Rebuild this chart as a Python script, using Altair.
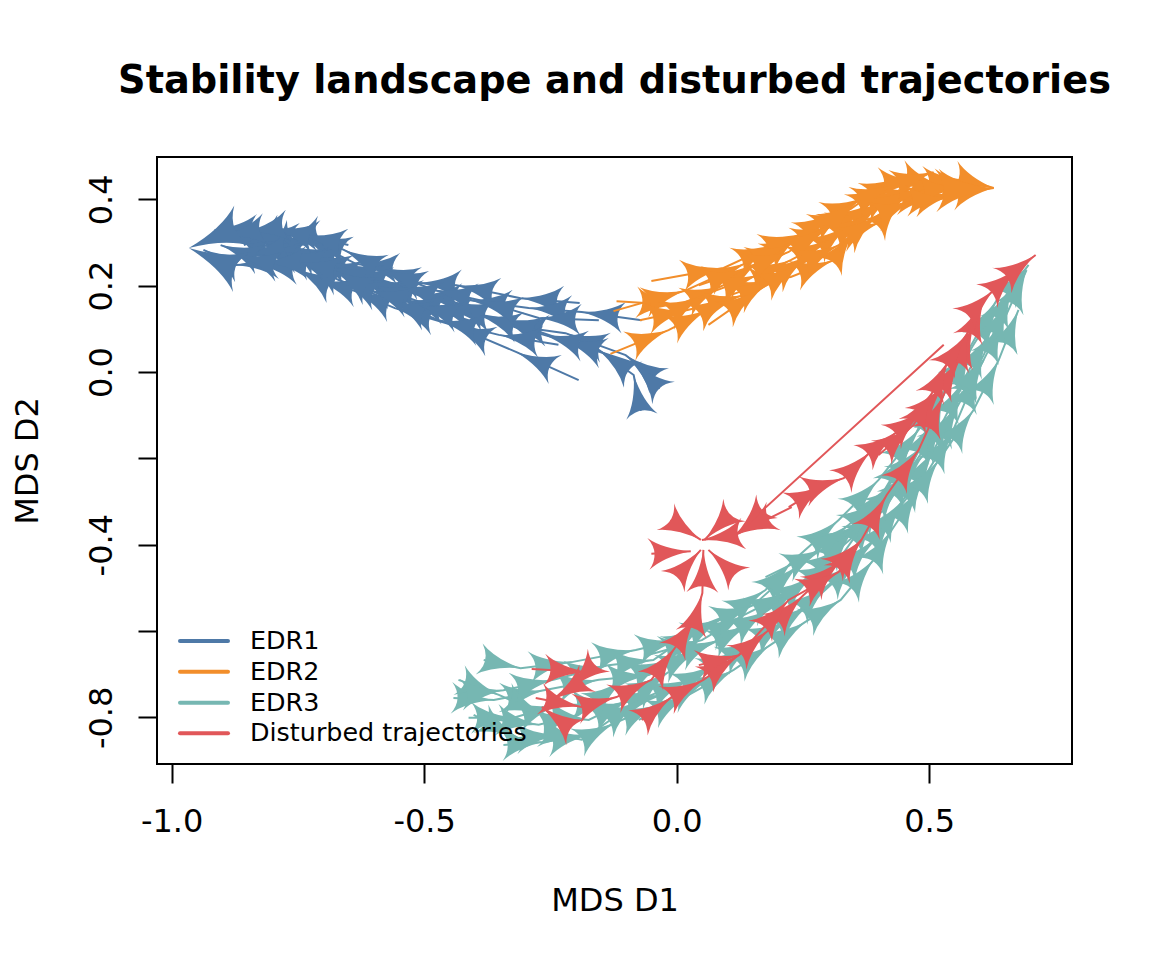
import math
import altair as alt
import pandas as pd

TITLE = "Stability landscape and disturbed trajectories"
NAMES = ["EDR1", "EDR2", "EDR3", "Disturbed trajectories"]
COLORS = ["#4E79A7", "#F28E2B", "#76B7B2", "#E15759"]
X_DOMAIN = [-1.029, 0.783]
Y_DOMAIN = [-0.908, 0.498]
X_TICKS = [-1.0, -0.5, 0.0, 0.5]
Y_TICKS = [-0.8, -0.6, -0.4, -0.2, 0.0, 0.2, 0.4]
W, H = 915, 607

# EDR1
b1x = [-.194,-.317,-.444,-.558,-.638,-.711,-.752,-.832,-.873,-.937]
b1y = [-.019,.046,.109,.148,.188,.213,.239,.250,.248,.283]
b2x = [-.192,-.309,-.436,-.511,-.594,-.634,-.741,-.782,-.861,-.915]
b2y = [.160,.171,.201,.206,.245,.250,.313,.299,.329,.329]
b3x = [-.069,-.188,-.293,-.412,-.511,-.590,-.669,-.749,-.824,-.891]
b3y = [.120,.139,.148,.167,.178,.213,.255,.283,.294,.334]
b4x = [-.036,-.101,-.220,-.339,-.451,-.550,-.649,-.729,-.812,-.834]
b4y = [-.019,.039,.090,.109,.167,.201,.236,.271,.320,.324]
b5x = [-.034,-.085,-.224,-.352,-.451,-.541,-.630,-.709,-.782,-.822]
b5y = [-.039,.021,.074,.125,.144,.167,.225,.255,.299,.266]
b6x = [-.071,-.085,-.154,-.263,-.392,-.491,-.600,-.689,-.778,-.832,-.883]
b6y = [-.090,-.007,.051,.086,.132,.155,.201,.248,.271,.283,.266]
b7x = [-.154,-.273,-.392,-.481,-.580,-.659,-.729,-.792,-.857]
b7y = [.120,.125,.167,.190,.236,.283,.317,.324,.294]
b8x = [-.234,-.352,-.471,-.570,-.669,-.739,-.798,-.848,-.903]
b8y = [.063,.086,.120,.167,.213,.255,.283,.271,.294]
b9x = [-.650,-.739,-.798,-.852,-.897]
b9y = [.294,.317,.334,.324,.315]
b10x = [-.412,-.511,-.610,-.679,-.749,-.818,-.867]
b10y = [.120,.155,.190,.236,.255,.255,.271]
# EDR2
o1x = [-.131,-.016,.061,.107,.192,.226,.311,.350,.404,.446,.519,.552,.628]
o1y = [.042,.097,.144,.178,.215,.220,.259,.324,.347,.401,.405,.412,.426]
o2x = [-.119,.004,.093,.162,.248,.313,.370,.447,.525]
o2y = [.164,.155,.201,.255,.320,.371,.403,.454,.431]
o3x = [-.050,.093,.194,.248,.345,.418,.483,.572,.628]
o3y = [.211,.241,.296,.320,.378,.438,.440,.445,.426]
o4x = [-.125,.016,.137,.222,.311,.380,.447,.539,.602]
o4y = [.141,.188,.252,.294,.340,.387,.422,.433,.431]
o5x = [-.073,.024,.133,.192,.261,.341,.410,.489,.562]
o5y = [.120,.144,.178,.215,.271,.340,.398,.422,.426]
o6x = [-.036,.053,.162,.226,.301,.376,.459]
o6y = [.120,.178,.225,.259,.306,.364,.422]
o7x = [.044,.133,.222,.291,.360,.430,.509]
o7y = [.201,.236,.278,.334,.398,.433,.463]
o8x = [.063,.162,.242,.321,.400,.469,.539]
o8y = [.109,.190,.248,.294,.364,.398,.403]
# EDR3
t1x = [-.382,-.309,-.208,-.081,.004,.093,.176,.228,.321,.400,.479,.539,.588,.638,.697]
t1y = [-.667,-.686,-.672,-.644,-.621,-.570,-.505,-.440,-.343,-.250,-.134,-.030,.063,.155,.248]
t2x = [-.442,-.362,-.263,-.154,-.055,.044,.143,.242,.331,.410,.469,.529,.568,.618,.667]
t2y = [-.755,-.760,-.737,-.713,-.702,-.644,-.586,-.493,-.401,-.320,-.215,-.111,-.019,.086,.201]
t3x = [-.412,-.323,-.234,-.125,-.026,.073,.162,.261,.360,.430,.499,.548,.598,.648,.693]
t3y = [-.801,-.801,-.771,-.771,-.748,-.679,-.621,-.540,-.435,-.331,-.227,-.134,.005,.120,.236]
t4x = [-.343,-.263,-.174,-.075,.024,.123,.222,.301,.390,.449,.509,.558,.608]
t4y = [-.864,-.857,-.841,-.760,-.713,-.644,-.574,-.493,-.389,-.296,-.181,-.076,.028]
t5x = [-.402,-.313,-.234,-.188,-.123,-.036,.063]
t5y = [-.794,-.848,-.841,-.852,-.813,-.771,-.713]
t6x = [-.075,.024,.113,.186,.255,.325,.390,.426,.479,.519,.588,.638,.677]
t6y = [-.806,-.748,-.690,-.632,-.579,-.528,-.435,-.366,-.273,-.204,-.088,.028,.144]
t7x = [.176,.291,.366,.424,.489,.529,.578,.634]
t7y = [-.475,-.410,-.350,-.257,-.169,-.053,.051,.167]
t8x = [-.055,.050,.133,.220,.321,.390,.449,.509]
t8y = [-.655,-.621,-.563,-.512,-.435,-.320,-.250,-.111]
t9x = [-.432,-.352,-.263,-.174,-.095,-.016]
t9y = [-.713,-.748,-.794,-.806,-.760,-.695]
t10x = [-.352,-.273,-.194,-.105,-.016,.083,.182,.271,.350,.420,.489,.548,.608,.657]
t10y = [-.806,-.817,-.794,-.713,-.667,-.621,-.551,-.470,-.366,-.285,-.192,-.088,.039,.167]
t11x = [-.432,-.343,-.244,-.135,-.046,.053,.152,.242,.341,.400,.459,.509]
t11y = [-.748,-.737,-.713,-.679,-.667,-.586,-.540,-.447,-.354,-.296,-.181,-.053]
# Disturbed
r1x = [.529,.117,.050]
r1y = [.063,-.377,-.389]
r2x = [.222,.297,.331,.384,.436,.489,.529,.562,.588,.608,.628,.677,.711]
r2y = [-.313,-.259,-.246,-.185,-.139,-.088,-.030,.032,.109,.167,.190,.241,.271]
r3x = [.228,.117]
r3y = [-.313,-.377]
r4x = [-.050,.028]
r4y = [-.421,-.415]
r5x = [-.012,.048]
r5y = [-.343,-.389]
r6x = [.004,.048]
r6y = [-.470,-.412]
r7x = [.109,.063]
r7y = [-.463,-.412]
r8x = [.099,.055]
r8y = [-.338,-.389]
r9x = [-.287,-.178,-.214,-.248]
r9y = [-.688,-.695,-.736,-.760]
r10x = [-.220,-.267]
r10y = [-.817,-.776]
r11x = [-.279,-.188,-.119,-.050,-.002,.038,.051,.053]
r11y = [-.755,-.776,-.753,-.713,-.637,-.567,-.512,-.412]
r12x = [-.069,-.010,.053,.123,.182,.251,.327,.366,.416,.479,.529,.580]
r12y = [-.806,-.753,-.713,-.656,-.598,-.517,-.435,-.389,-.285,-.181,-.053,.102]
r13x = [.044,.123,.222,.321,.366]
r13y = [-.679,-.656,-.528,-.463,-.389]
r14x = [.400,.469,.509,.539,.574]
r14y = [-.192,-.123,-.042,.028,.086]

GROUPS = [
    (NAMES[0], [(b1x,b1y),(b2x,b2y),(b3x,b3y),(b4x,b4y),(b5x,b5y),(b6x,b6y),(b7x,b7y),(b8x,b8y),(b9x,b9y),(b10x,b10y)]),
    (NAMES[1], [(o1x,o1y),(o2x,o2y),(o3x,o3y),(o4x,o4y),(o5x,o5y),(o6x,o6y),(o7x,o7y),(o8x,o8y)]),
    (NAMES[2], [(t1x,t1y),(t2x,t2y),(t3x,t3y),(t4x,t4y),(t5x,t5y),(t6x,t6y),(t7x,t7y),(t8x,t8y),(t9x,t9y),(t10x,t10y),(t11x,t11y)]),
    (NAMES[3], [(r1x,r1y),(r2x,r2y),(r3x,r3y),(r4x,r4y),(r5x,r5y),(r6x,r6y),(r7x,r7y),(r8x,r8y),
                (r9x,r9y),(r10x,r10y),(r11x,r11y),(r12x,r12y),(r13x,r13y),(r14x,r14y)]),
]
LARGE = [(NAMES[0], -.867, .335, -.966, .287), (NAMES[0], -.867, .235, -.966, .287),
         (NAMES[1], .539, .422, .628, .426)]
HEAD_SIZE = 1800
LARGE_SIZE = 3400
ARROW = "M0,0 Q0.18,1.3 0.75,2 Q0,1.42 -0.75,2 Q-0.18,1.3 0,0 Z"

sx = W / (X_DOMAIN[1] - X_DOMAIN[0])
sy = H / (Y_DOMAIN[1] - Y_DOMAIN[0])

def heading(x0, y0, x1, y1):
    return math.degrees(math.atan2((x1 - x0) * sx, (y1 - y0) * sy)) % 360

line_rows, head_rows = [], []
for g, (name, trajs) in enumerate(GROUPS):
    for t, (xs, ys) in enumerate(trajs):
        tid = f"{g}-{t}"
        for i, (x, y) in enumerate(zip(xs, ys)):
            line_rows.append(dict(g=name, rank=g, t=tid, i=i, x=x, y=y))
            if i:
                head_rows.append(dict(g=name, rank=g, x=x, y=y, s=HEAD_SIZE,
                                      a=heading(xs[i-1], ys[i-1], x, y)))
for name, x0, y0, x1, y1 in LARGE:
    head_rows.append(dict(g=name, rank=NAMES.index(name), x=x1, y=y1, s=LARGE_SIZE,
                          a=heading(x0, y0, x1, y1)))
lines = pd.DataFrame(line_rows)
heads = pd.DataFrame(head_rows)

FONT = "DejaVu Sans"
xscale = alt.Scale(domain=X_DOMAIN, nice=False, zero=False)
yscale = alt.Scale(domain=Y_DOMAIN, nice=False, zero=False)
color = alt.Color("g:N", scale=alt.Scale(domain=NAMES, range=COLORS), legend=None)

xaxis = alt.Axis(values=X_TICKS, title="MDS D1", grid=False, domain=False, tickSize=19, tickWidth=2,
                 tickColor="black", labelFont=FONT, labelFontSize=32, labelColor="black",
                 labelPadding=23, labelFlush=False, labelOverlap=False,
                 labelExpr="(datum.value<0?'-':'')+format(abs(datum.value),'.1f')",
                 titleFont=FONT, titleFontSize=32, titleFontWeight="normal", titleColor="black",
                 titlePadding=48)
yaxis = alt.Axis(values=Y_TICKS, title="MDS D2", grid=False, domain=False, tickSize=19, tickWidth=2,
                 tickColor="black", labelFont=FONT, labelFontSize=32, labelColor="black",
                 labelAngle=270, labelAlign="center", labelBaseline="bottom", labelPadding=20,
                 labelFlush=False, labelOverlap=False,
                 labelExpr="(datum.value==-0.2||datum.value==-0.6)?'':(datum.value<0?'-':'')+format(abs(datum.value),'.1f')",
                 titleFont=FONT, titleFontSize=32, titleFontWeight="normal", titleColor="black",
                 titlePadding=41)

layers = []
for g, name in enumerate(NAMES):
    ld = lines[lines["rank"] == g]
    hd = heads[heads["rank"] == g]
    kw = dict(x=alt.X("x:Q", scale=xscale, axis=xaxis),
              y=alt.Y("y:Q", scale=yscale, axis=yaxis))
    layers.append(alt.Chart(ld).mark_line(strokeWidth=2).encode(
        detail="t:N", order="i:Q", color=color, **kw))
    layers.append(alt.Chart(hd).mark_point(shape=ARROW, filled=True, opacity=1, strokeWidth=0.5).encode(
        size=alt.Size("s:Q", scale=None), angle=alt.Angle("a:Q", scale=None), color=color, **kw))

LEG_Y = [484, 514.7, 545.7, 576.3]
for name, col, ly in zip(NAMES, COLORS, LEG_Y):
    d = pd.DataFrame({"n": [name]})
    layers.append(alt.Chart(d).mark_rule(strokeWidth=4, color=col, strokeCap="round").encode(
        x=alt.value(23), x2=alt.value(71), y=alt.value(ly)))
    layers.append(alt.Chart(d).mark_text(align="left", baseline="middle", font=FONT, fontSize=25.4, color="black").encode(
        x=alt.value(93), y=alt.value(ly), text="n:N"))

chart = alt.layer(*layers).properties(
    width=W, height=H,
    title=alt.TitleParams(TITLE, font=FONT, fontSize=38.3, fontWeight="bold", color="black",
                          anchor="middle", offset=56),
    autosize=alt.AutoSizeParams(type="none"),
    padding={"left": 149, "top": 149, "right": 72, "bottom": 180},
).configure_view(stroke="black", strokeWidth=2)

chart.save("out.html", embed_options={"renderer": "svg", "actions": False})
